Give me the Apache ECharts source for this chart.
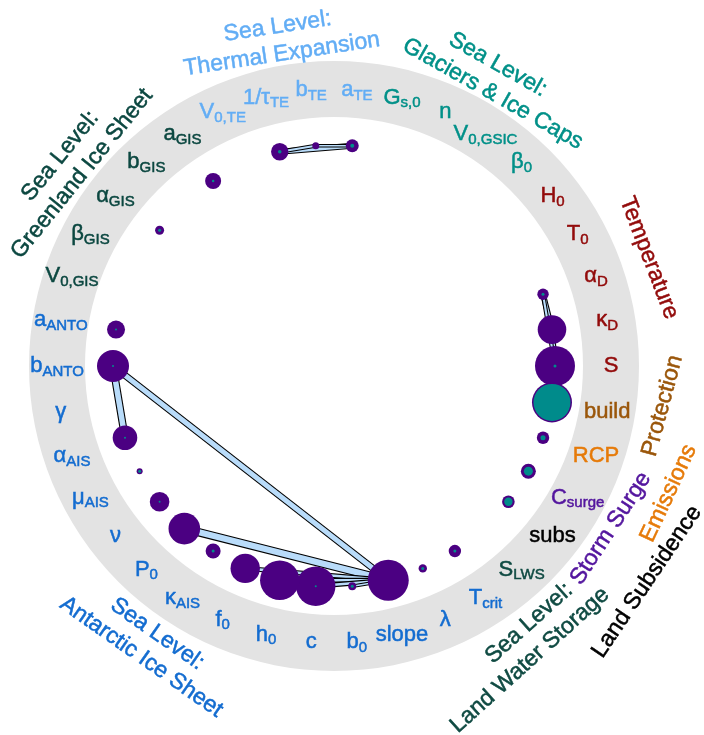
<!DOCTYPE html>
<html>
<head>
<meta charset="utf-8">
<script src="https://cdn.jsdelivr.net/npm/echarts@6/dist/echarts.min.js"></script>
<style>
  html, body { margin: 0; padding: 0; background: #ffffff; }
  #chart { width: 704px; height: 735px; }
</style>
</head>
<body>
<div id="chart"></div>
<script>
// Parameters, clockwise from the top-left (base symbol + subscript)
const PARAM_SYMBOL = ['V', '1/τ', 'b', 'a', 'G', 'n', 'V', 'β', 'H', 'T', 'α', 'κ', 'S', 'build', 'RCP', 'C', 'subs', 'S', 'T', 'λ', 'slope', 'b', 'c', 'h', 'f', 'κ', 'P', 'ν', 'μ', 'α', 'γ', 'b', 'a', 'V', 'β', 'α', 'b', 'a'];
const PARAM_SUB = ['0,TE', 'TE', 'TE', 'TE', 's,0', '', '0,GSIC', '0', '0', '0', 'D', 'D', '', '', '', 'surge', '', 'LWS', 'crit', '', '', '0', '', '0', '0', 'AIS', '0', '', 'AIS', 'AIS', '', 'ANTO', 'ANTO', '0,GIS', 'GIS', 'GIS', 'GIS', 'GIS'];

// Total-order and first-order sensitivity indices per parameter
const TOTAL_ORDER = [0, 0.174, 0.07, 0.13, 0, 0, 0, 0, 0, 0, 0.114, 0.286, 0.40, 0.40, 0.124, 0.15, 0.126, 0, 0.124, 0.084, 0.41, 0.08, 0.394, 0.394, 0.294, 0.15, 0.316, 0.196, 0.06, 0.246, 0, 0.32, 0.18, 0, 0, 0.09, 0, 0.16];
const FIRST_ORDER = [0, 0.036, 0, 0.04, 0, 0, 0, 0, 0, 0, 0.03, 0, 0.03, 0.37, 0.05, 0.09, 0.084, 0, 0.03, 0.03, 0, 0.03, 0.02, 0, 0, 0.03, 0, 0.02, 0.03, 0.02, 0, 0.02, 0.02, 0, 0, 0.03, 0, 0.025];

// Second-order indices between parameter pairs
const EDGE_FROM = ['1/τ_TE', '1/τ_TE', 'b_TE', 'α_D', 'κ_D', 'α_D', 'b_ANTO', 'b_ANTO', 'P_0', 'f_0', 'h_0', 'c', 'b_0'];
const EDGE_TO = ['a_TE', 'b_TE', 'a_TE', 'κ_D', 'S', 'S', 'α_AIS', 'slope', 'slope', 'slope', 'slope', 'slope', 'slope'];
const EDGE_VALUE = [0.125, 0.085, 0.075, 0.12, 0.12, 0.09, 0.16, 0.15, 0.175, 0.1, 0.1, 0.1, 0.075];

// Parameter groups (index ranges into the parameter list)
const GROUP_NAMES = ['Sea Level:\nThermal Expansion', 'Sea Level:\nGlaciers & Ice Caps', 'Temperature', 'Protection', 'Emissions', 'Storm Surge', 'Land Subsidence', 'Sea Level:\nLand Water Storage', 'Sea Level:\nAntarctic Ice Sheet', 'Sea Level:\nGreenland Ice Sheet'];
const GROUP_FIRST = [0, 4, 8, 13, 14, 15, 16, 17, 18, 33];
const GROUP_LAST = [3, 7, 12, 13, 14, 15, 16, 17, 32, 37];

// ---- styling / layout ----
const GROUP_COLORS = ['#62ADF5', '#009088', '#920A0A', '#9A560A', '#E67A08', '#53159E', '#000000', '#0F4A42', '#136CD0', '#0B4740'];
// per group: shift of label anchor (in parameter steps), radius (px), text rotation (deg),
// and how far the first line slides along the text relative to the second (px)
const GROUP_LABEL_SHIFT = [0, 0.1, 0, -0.27, 0.2, 0.21, -0.35, 0.77, 0.03, -0.05];
const GROUP_LABEL_R = [330, 329, 333, 331, 358, 321, 380, 338, 335, 331];
const GROUP_LABEL_ROT = [8.5, -29.5, -69, 75, 65, 57, 56, 42, -35, 51];
const GROUP_LINE_SKEW = [0, -10, 0, 0, 0, 0, 0, 24, 0, 0];

const CENTER = [334, 366];
const N = PARAM_SYMBOL.length;
const NODE_R = 221;
const LABEL_R = 277;
const RING = [249, 305];
const NODE_SCALE = 100;   // symbol diameter per unit index
const EDGE_SCALE = 48;    // edge width per unit index
const FONT = '"Liberation Sans", Arial, Helvetica, sans-serif';
const TEXT_WEIGHT = 0.5;  // faint same-colour outline to give glyphs a little more body

const PARAM_KEYS = PARAM_SYMBOL.map((s, i) => PARAM_SUB[i] ? s + '_' + PARAM_SUB[i] : s);
const groupOf = i => GROUP_FIRST.findIndex((f, g) => i >= f && i <= GROUP_LAST[g]);

// rich-text styles for parameter labels, one pair per group colour
const rich = {};
GROUP_COLORS.forEach((c, g) => {
  rich['m' + g] = { color: c, fontSize: 22, lineHeight: 26, fontFamily: FONT, textBorderColor: c, textBorderWidth: TEXT_WEIGHT };
  rich['s' + g] = { color: c, fontSize: 15, lineHeight: 15, padding: [11, 0, 0, 0], fontFamily: FONT, textBorderColor: c, textBorderWidth: TEXT_WEIGHT };
});

// rich-text styles for the group titles (one per line per group)
const groupRich = {};
GROUP_COLORS.forEach((c, g) => {
  const k = GROUP_LINE_SKEW[g];
  const base = { color: c, fontSize: 23, lineHeight: 28, fontFamily: FONT, textBorderColor: c, textBorderWidth: TEXT_WEIGHT };
  groupRich['a' + g] = Object.assign({}, base, { padding: k >= 0 ? [0, 0, 0, k] : [0, -k, 0, 0] });
  groupRich['b' + g] = Object.assign({}, base, { padding: k >= 0 ? [0, k, 0, 0] : [0, 0, 0, -k] });
});

const nodeData = (vals) => vals.map((v, i) => [NODE_R, i, v]).filter(d => d[2] > 0);

const edgeData = EDGE_FROM.map((a, k) => [PARAM_KEYS.indexOf(a), PARAM_KEYS.indexOf(EDGE_TO[k]), EDGE_VALUE[k]]);

const chart = echarts.init(document.getElementById('chart'), null, { renderer: 'canvas' });
chart.setOption({
  animation: false,
  backgroundColor: '#ffffff',
  polar: { center: CENTER, radius: 420 },
  radiusAxis: { type: 'value', min: 0, max: 420, show: false },
  angleAxis: { type: 'value', min: 0, max: N, startAngle: 12 * 360 / N, clockwise: true, show: false },
  series: [
    {
      type: 'pie', silent: true, z: 0,
      center: CENTER, radius: RING,
      label: { show: false }, labelLine: { show: false },
      itemStyle: { color: '#E3E3E3', borderWidth: 0 },
      data: [{ value: 1 }]
    },
    {
      type: 'custom', coordinateSystem: 'polar', silent: true, z: 2,
      data: edgeData,
      renderItem: (params, api) => {
        const p1 = api.coord([NODE_R, api.value(0)]);
        const p2 = api.coord([NODE_R, api.value(1)]);
        const w = api.value(2) * EDGE_SCALE;
        const shape = { x1: p1[0], y1: p1[1], x2: p2[0], y2: p2[1] };
        return {
          type: 'group',
          children: [
            { type: 'line', shape: shape, style: { stroke: '#000000', lineWidth: w } },
            { type: 'line', shape: shape, style: { stroke: '#B9DCFA', lineWidth: Math.max(w - 2.2, 0.5) } }
          ]
        };
      }
    },
    {
      type: 'scatter', coordinateSystem: 'polar', silent: true, z: 3, clip: false,
      data: nodeData(TOTAL_ORDER),
      symbolSize: d => d[2] * NODE_SCALE,
      itemStyle: { color: '#4B0082', opacity: 1 }
    },
    {
      type: 'scatter', coordinateSystem: 'polar', silent: true, z: 4, clip: false,
      data: nodeData(FIRST_ORDER),
      symbolSize: d => d[2] * NODE_SCALE,
      itemStyle: { color: '#008B8B', opacity: 1 }
    },
    {
      type: 'scatter', coordinateSystem: 'polar', silent: true, z: 5, clip: false,
      symbolSize: 1,
      itemStyle: { color: 'rgba(0,0,0,0)' },
      data: PARAM_SYMBOL.map((s, i) => [LABEL_R, i]),
      label: {
        show: true, position: 'inside', opacity: 1,
        formatter: p => {
          const i = p.dataIndex, g = groupOf(i);
          return '{m' + g + '|' + PARAM_SYMBOL[i] + '}' + (PARAM_SUB[i] ? '{s' + g + '|' + PARAM_SUB[i] + '}' : '');
        },
        rich: rich
      }
    },
    {
      type: 'scatter', coordinateSystem: 'polar', silent: true, z: 5, clip: false,
      symbolSize: 1,
      itemStyle: { color: 'rgba(0,0,0,0)' },
      data: GROUP_NAMES.map((name, g) => ({
        name: name,
        value: [GROUP_LABEL_R[g], (GROUP_FIRST[g] + GROUP_LAST[g]) / 2 + GROUP_LABEL_SHIFT[g]],
        label: { rotate: GROUP_LABEL_ROT[g] }
      })),
      label: {
        show: true, position: 'inside', opacity: 1,
        align: 'center', verticalAlign: 'middle',
        formatter: p => {
          const g = p.dataIndex;
          const lines = GROUP_NAMES[g].split('\n');
          if (lines.length === 1) return '{a' + g + '|' + lines[0] + '}';
          return '{a' + g + '|' + lines[0] + '}\n{b' + g + '|' + lines[1] + '}';
        },
        rich: groupRich
      }
    }
  ]
});
</script>
</body>
</html>
